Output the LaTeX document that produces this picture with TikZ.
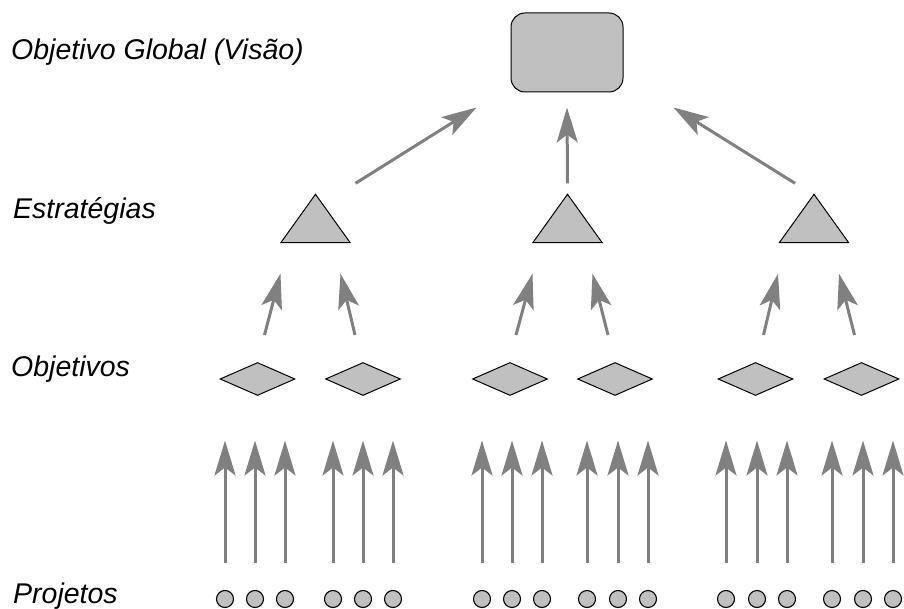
\documentclass[tikz,border=0pt]{standalone}
\usepackage{fontspec}
\setmainfont{Liberation Sans}
\usetikzlibrary{arrows.meta,shapes.geometric,calc}
\definecolor{shapefill}{HTML}{C0C0C0}
\definecolor{arrowgray}{HTML}{808080}
\begin{document}
\begin{tikzpicture}[x=1pt,y=-1pt,
  lbl/.style={anchor=base west,inner sep=0pt,font=\fontsize{28.5}{32}\selectfont\itshape},
  goalbox/.style={draw=black,fill=shapefill,line width=1pt,rounded corners=14pt,minimum width=112pt,minimum height=79pt,inner sep=0pt},
  tribox/.style={minimum width=69pt,minimum height=48pt,inner sep=0pt},
  tridraw/.style={draw=black,fill=shapefill,line width=1pt,line join=miter},
  objbox/.style={diamond,draw=black,fill=shapefill,line width=1pt,minimum width=75pt,minimum height=33pt,inner sep=0pt},
  projbox/.style={circle,draw=black,fill=shapefill,line width=1.1pt,minimum size=17pt,inner sep=0pt},
  arr/.style={draw=arrowgray,line width=3pt,-{Stealth[length=35pt,width=21pt,inset=8pt]}}
]
\useasboundingbox (0,0) rectangle (904,609);

% labels
\node[lbl] (lg) at (11,60) {Objetivo Global (Visão)};
\node[lbl] (le) at (13,219) {Estratégias};
\node[lbl] (lo) at (11,376) {Objetivos};
\node[lbl] (lp) at (13,603) {Projetos};

% goal
\node[goalbox] (g) at (567,52.5) {};

% strategies
\foreach \n/\x in {1/315.5,2/567.5,3/814}{
  \node[tribox] (t\n) at (\x,218.5) {};
  \path[tridraw] (t\n.north) -- (t\n.south east) -- (t\n.south west) -- cycle;
}

% objectives
\foreach \n/\x in {1/257.5,2/363,3/510,4/615,5/755.5,6/861.5}{
  \node[objbox] (d\n) at (\x,379) {};
}

% projects
\foreach \n/\x in {1/225,2/255,3/285,4/333,5/363,6/393,7/482,8/512,9/542,10/587,11/618,12/648,13/726,14/757,15/787,16/832,17/863,18/893}{
  \node[projbox] (p\n) at (\x,599) {};
}

% strategy -> goal
\draw[arr] ($(t1.north)+(40,-11)$) -- ($(g.south west)+(-34,15)$);
\draw[arr] ($(t2.north)+(0,-11)$) -- ($(g.south)+(0,15)$);
\draw[arr] ($(t3.north)+(-19,-11)$) -- ($(g.south east)+(50,15)$);

% objectives -> strategies
\draw[arr] ($(d1.north)+(7,-27)$) -- ($(t1.south)+(-35,31)$);
\draw[arr] ($(d2.north)+(-8,-27)$) -- ($(t1.south)+(25,31)$);
\draw[arr] ($(d3.north)+(6,-27)$) -- ($(t2.south)+(-35,31)$);
\draw[arr] ($(d4.north)+(-7,-27)$) -- ($(t2.south)+(25,31)$);
\draw[arr] ($(d5.north)+(8,-27)$) -- ($(t3.south)+(-36,31)$);
\draw[arr] ($(d6.north)+(-7,-27)$) -- ($(t3.south)+(25,31)$);

% projects -> objectives
\foreach \p/\d in {1/1,2/1,3/1,4/2,5/2,6/2,7/3,8/3,9/3,10/4,11/4,12/4,13/5,14/5,15/5,16/6,17/6,18/6}{
  \draw[arr] ($(p\p.north)+(0,-27)$) -- ($(p\p.north |- d\d.south)+(0,44.5)$);
}
\end{tikzpicture}
\end{document}
